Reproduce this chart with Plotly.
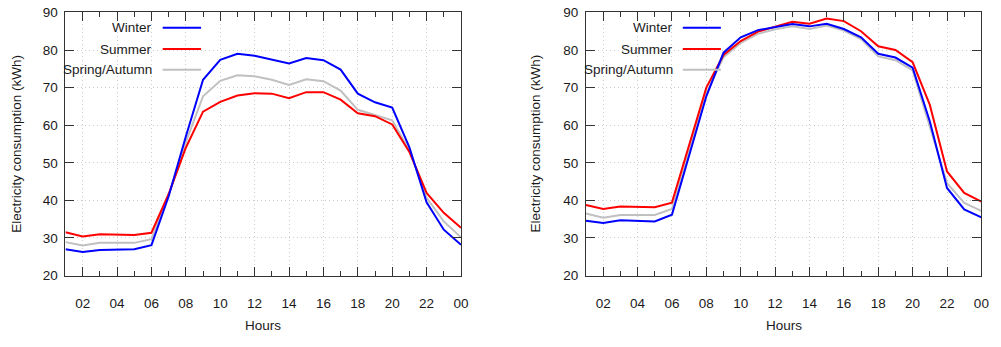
import plotly.graph_objects as go
from plotly.subplots import make_subplots

hours = list(range(1, 25))
tick_vals = [2, 4, 6, 8, 10, 12, 14, 16, 18, 20, 22, 24]
tick_text = ["02", "04", "06", "08", "10", "12", "14", "16", "18", "20", "22", "00"]
y_ticks = [20, 30, 40, 50, 60, 70, 80, 90]

series_names = ["Winter", "Summer", "Spring/Autumn"]
series_colors = ["#0000ff", "#ff0000", "#c0c0c0"]

left_winter = [27.0, 26.3, 26.8, 26.8, 27.0, 28.1, 41.1, 57.0, 72.1, 77.4, 79.0, 78.5,
               77.4, 76.4, 77.9, 77.3, 74.8, 68.4, 66.1, 64.7, 54.1, 39.5, 32.2, 28.2]
left_summer = [31.5, 30.4, 31.0, 30.9, 30.8, 31.4, 41.7, 54.0, 63.6, 66.2, 67.9, 68.5,
               68.4, 67.2, 68.8, 68.8, 66.8, 63.2, 62.4, 60.2, 52.9, 42.0, 36.7, 32.7]
left_spring = [28.9, 28.0, 28.7, 28.7, 28.7, 29.7, 41.4, 55.5, 67.7, 71.8, 73.3, 73.0,
               72.1, 70.7, 72.2, 71.7, 69.2, 64.1, 62.8, 61.3, 53.3, 40.7, 34.4, 30.2]

right_winter = [34.6, 34.0, 34.7, 34.5, 34.4, 36.2, 51.9, 67.7, 79.3, 83.4, 85.3, 86.2,
                86.9, 86.3, 87.0, 85.6, 83.4, 79.0, 78.0, 75.3, 61.0, 43.3, 37.6, 35.5]
right_summer = [38.8, 37.7, 38.4, 38.3, 38.2, 39.4, 54.7, 70.0, 78.7, 82.4, 84.9, 86.2,
                87.5, 87.0, 88.4, 87.7, 85.0, 81.0, 80.0, 76.8, 65.4, 47.7, 42.0, 39.7]
right_spring = [36.5, 35.4, 36.1, 36.1, 36.1, 37.7, 53.1, 68.5, 78.1, 81.9, 84.3, 85.5,
                86.3, 85.6, 86.5, 85.2, 82.9, 78.3, 77.3, 74.6, 59.6, 44.6, 39.3, 37.2]

W, H = 1001, 347
FONT = "Liberation Sans, Arial, sans-serif"
TXT = "#1a1a1a"
FS = 13.5

fig = make_subplots(rows=1, cols=2)

panels = [
    (1, [left_winter, left_summer, left_spring]),
    (2, [right_winter, right_summer, right_spring]),
]
for col, data in panels:
    # gray first, then red, then blue on top
    for idx in [2, 1, 0]:
        fig.add_trace(go.Scatter(x=hours, y=data[idx], mode="lines",
                                 line=dict(color=series_colors[idx], width=2),
                                 name=series_names[idx], showlegend=False,
                                 hoverinfo="skip"), row=1, col=col)

x_domains = [(66 / W, 464.7 / W), (590.7 / W, 989.3 / W)]
y_domain = ((H - 280.7) / H, (H - 5.7) / H)

axis_common = dict(
    showline=True, linecolor="#333333", linewidth=1, mirror="allticks",
    ticks="inside", tickcolor="#333333", tickwidth=1,
    showgrid=True, gridcolor="#cccccc", gridwidth=1, griddash="1px,3px",
    zeroline=False, ticklabeloverflow="allow",
    tickfont=dict(family=FONT, size=FS, color=TXT),
)

for i, dom in enumerate(x_domains):
    xa = "xaxis" if i == 0 else "xaxis2"
    ya = "yaxis" if i == 0 else "yaxis2"
    fig.layout[xa].update(
        domain=list(dom), range=[1, 24], tickmode="array",
        tickvals=tick_vals, ticktext=tick_text, ticklen=9,
        ticklabelstandoff=15,
        minor=dict(dtick=1, tick0=1, ticks="inside", ticklen=5,
                   tickcolor="#333333", showgrid=False),
        **axis_common)
    fig.layout[ya].update(
        domain=list(y_domain), range=[20, 90], tickmode="array",
        tickvals=y_ticks, ticklen=9, ticklabelstandoff=4,
        **axis_common)

annotations = []
shapes = []
ylab_x = [17, 540]
hours_x = [265.3, 790]
legend_text_x = [155, 680]
legend_line_x = [(164, 202.7), (688.3, 726.7)]
legend_rows = [21.7, 44, 65.7]

for i in range(2):
    annotations.append(dict(
        x=ylab_x[i] / W, y=(H - 143) / H, xref="paper", yref="paper",
        text="Electricity consumption (kWh)", textangle=-90, showarrow=False,
        font=dict(family=FONT, size=FS, color=TXT), xanchor="center", yanchor="middle"))
    annotations.append(dict(
        x=hours_x[i] / W, y=(H - 333) / H, xref="paper", yref="paper",
        text="Hours", showarrow=False,
        font=dict(family=FONT, size=FS, color=TXT), xanchor="center", yanchor="middle"))
    for k, name in enumerate(series_names):
        yy = (H - legend_rows[k]) / H
        annotations.append(dict(
            x=legend_text_x[i] / W, y=yy, xref="paper", yref="paper",
            text=name, showarrow=False, font=dict(family=FONT, size=FS, color=TXT),
            xanchor="right", yanchor="middle"))
        shapes.append(dict(
            type="line", xref="paper", yref="paper",
            x0=legend_line_x[i][0] / W, x1=legend_line_x[i][1] / W, y0=yy, y1=yy,
            line=dict(color=series_colors[k], width=2)))

fig.update_layout(
    width=W, height=H, margin=dict(l=0, r=0, t=0, b=0),
    paper_bgcolor="white", plot_bgcolor="white",
    showlegend=False, annotations=annotations, shapes=shapes,
    font=dict(family=FONT, size=FS, color=TXT),
)

fig.write_html("out.html")
